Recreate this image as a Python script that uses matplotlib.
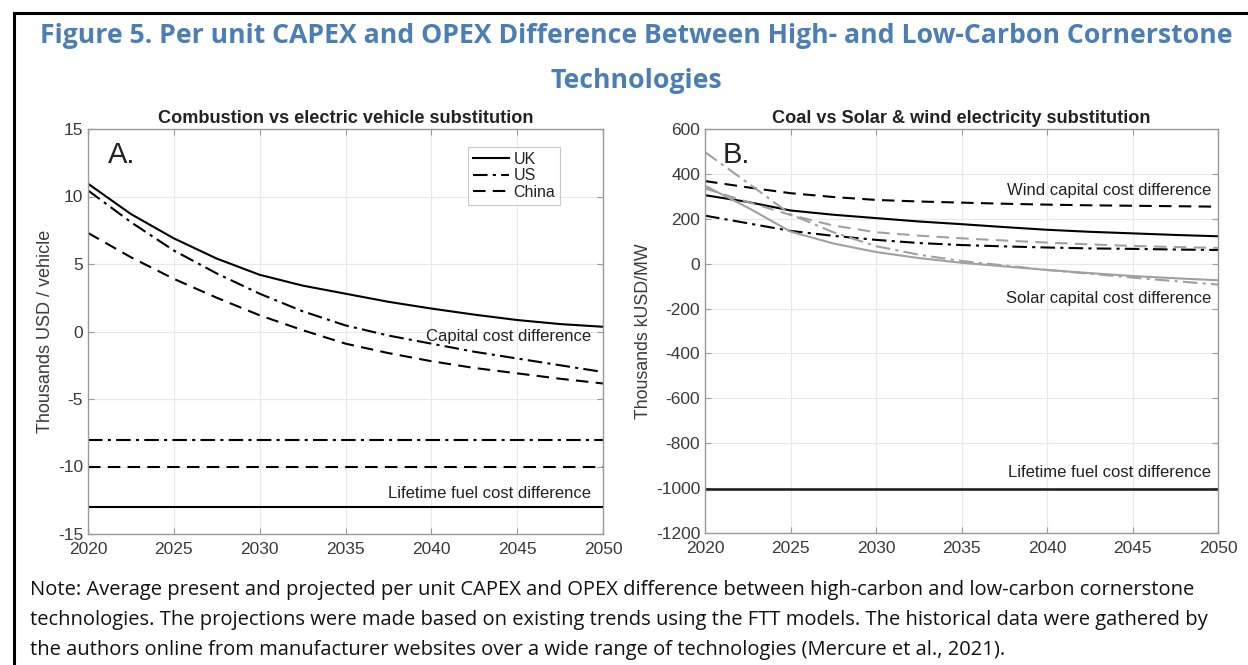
import matplotlib
matplotlib.use("Agg")
import matplotlib.pyplot as plt
from matplotlib.lines import Line2D

# ---------------- data ----------------
years = [2020, 2022.5, 2025, 2027.5, 2030, 2032.5, 2035, 2037.5, 2040, 2042.5, 2045, 2047.5, 2050]

# Panel A: thousands USD / vehicle
ev_capital_uk = [10.95, 8.7, 6.9, 5.4, 4.2, 3.4, 2.8, 2.2, 1.7, 1.25, 0.85, 0.55, 0.35]
ev_capital_us = [10.45, 8.1, 6.0, 4.3, 2.8, 1.5, 0.45, -0.3, -0.9, -1.5, -2.0, -2.5, -3.0]
ev_capital_cn = [7.3, 5.5, 3.9, 2.5, 1.2, 0.1, -0.9, -1.6, -2.2, -2.7, -3.1, -3.5, -3.85]
ev_fuel_uk = -13.0
ev_fuel_us = -8.0
ev_fuel_cn = -10.0

# Panel B: thousands kUSD / MW
wind_uk = [305, 275, 237, 218, 203, 188, 176, 163, 151, 142, 135, 128, 122]
wind_cn = [368, 340, 314, 297, 284, 277, 272, 267, 263, 260, 258, 256, 254]
wind_us = [214, 180, 146, 124, 106, 92, 83, 77, 72, 68, 66, 63, 61]
solar_us = [497, 360, 220, 140, 78, 40, 12, -8, -28, -45, -62, -78, -93]
solar_uk = [347, 250, 143, 90, 52, 25, 4, -12, -28, -42, -55, -65, -74]
solar_cn = [335, 275, 217, 170, 140, 125, 113, 103, 94, 86, 79, 74, 70]
coal_fuel = -1005

legend_labels = ["UK", "US", "China"]
xticks = [2020, 2025, 2030, 2035, 2040, 2045, 2050]

fig_title = "Figure 5. Per unit CAPEX and OPEX Difference Between High- and Low-Carbon Cornerstone\nTechnologies"
note_lines = [
    "Note: Average present and projected per unit CAPEX and OPEX difference between high-carbon and low-carbon cornerstone",
    "technologies. The projections were made based on existing trends using the FTT models. The historical data were gathered by",
    "the authors online from manufacturer websites over a wide range of technologies (Mercure et al., 2021).",
]

# ---------------- style ----------------
W, H = 1248, 665
fig = plt.figure(figsize=(W / 100, H / 100), dpi=100)
CF = "Liberation Sans"
TICKC = "#3a3a3a"
SPC = "#9a9a9a"
BLUE = "#4a7eb5"
GRAY = "#a0a0a0"
TXT = "#222222"

DASH = (0, (6, 3.5))
DASHDOT = (0, (7, 2.5, 1.5, 2.5))


def ax_rect(x0, y0, x1, y1):
    return [x0 / W, 1 - y1 / H, (x1 - x0) / W, (y1 - y0) / H]


def style_axes(ax):
    for s in ax.spines.values():
        s.set_color(SPC)
        s.set_linewidth(1.0)
    ax.tick_params(direction="in", top=True, right=True, colors=SPC, labelcolor=TICKC,
                   labelsize=12.5, length=4)
    ax.tick_params(axis="x", pad=6)
    ax.grid(True, color="#e8e8e8", linewidth=0.8)
    ax.set_axisbelow(True)
    ax.set_xlim(2020, 2050)
    ax.set_xticks(xticks)
    ax.set_xticklabels([str(t) for t in xticks], family=CF)


# Frame
fig.add_artist(Line2D([14 / W, 14 / W], [0, 1 - 13 / H], color="black", lw=2.2, transform=fig.transFigure))
fig.add_artist(Line2D([14 / W, 1], [1 - 13 / H, 1 - 13 / H], color="black", lw=2.2, transform=fig.transFigure))

# Title
t1, t2 = fig_title.split("\n")
fig.text(636 / W, 1 - 36 / H, t1, ha="center", va="center",
         family="Open Sans", weight="bold", color=BLUE, fontsize=19.2)
fig.text(636 / W, 1 - 81 / H, t2, ha="center", va="center",
         family="Open Sans", weight="bold", color=BLUE, fontsize=19.2)

lw = 1.5

# ---------------- Panel A ----------------
axA = fig.add_axes(ax_rect(88, 129, 603, 534))
axA.plot(years, ev_capital_uk, color="black", lw=lw, linestyle="-", label=legend_labels[0])
axA.plot(years, ev_capital_us, color="black", lw=lw, linestyle=DASHDOT, label=legend_labels[1])
axA.plot(years, ev_capital_cn, color="black", lw=lw, linestyle=DASH, label=legend_labels[2])
axA.plot([years[0], years[-1]], [ev_fuel_us] * 2, color="black", lw=lw, linestyle=DASHDOT)
axA.plot([years[0], years[-1]], [ev_fuel_cn] * 2, color="black", lw=lw, linestyle=DASH)
axA.plot([years[0], years[-1]], [ev_fuel_uk] * 2, color="black", lw=lw, linestyle="-")
axA.set_ylim(-15, 15)
ytA = [-15, -10, -5, 0, 5, 10, 15]
axA.set_yticks(ytA)
style_axes(axA)
axA.set_yticklabels([str(v) for v in ytA], family=CF)
axA.set_title("Combustion vs electric vehicle substitution", family=CF, weight="bold",
              fontsize=13.1, color=TXT, pad=4)
axA.set_ylabel("Thousands USD / vehicle", family=CF, fontsize=13, color=TICKC, labelpad=3)
axA.text(0.038, 0.935, "A.", transform=axA.transAxes, family=CF, fontsize=21,
         color=TXT, ha="left", va="center")
axA.text(2049.3, -0.4, "Capital cost difference", family=CF, fontsize=12, color=TXT,
         ha="right", va="center")
axA.text(2049.3, -12.0, "Lifetime fuel cost difference", family=CF, fontsize=12,
         color=TXT, ha="right", va="center")
leg = axA.legend(loc="upper right", bbox_to_anchor=((560 - 88) / 515, 1 - (147 - 129) / 405),
                 prop={"family": CF, "size": 11.5}, frameon=True, fancybox=False,
                 edgecolor="#bbbbbb", handlelength=2.3, handletextpad=0.25,
                 borderpad=0.3, labelspacing=0.1, borderaxespad=0)
leg.get_frame().set_linewidth(0.8)
for t in leg.get_texts():
    t.set_color(TXT)

# ---------------- Panel B ----------------
axB = fig.add_axes(ax_rect(705, 129, 1218, 533))
axB.plot(years, wind_cn, color="black", lw=lw, linestyle=DASH)
axB.plot(years, wind_uk, color="black", lw=lw, linestyle="-")
axB.plot(years, wind_us, color="black", lw=lw, linestyle=DASHDOT)
axB.plot(years, solar_cn, color=GRAY, lw=lw, linestyle=DASH)
axB.plot(years, solar_uk, color=GRAY, lw=lw, linestyle="-")
axB.plot(years, solar_us, color=GRAY, lw=lw, linestyle=DASHDOT)
axB.plot([years[0], years[-1]], [coal_fuel] * 2, color=TXT, lw=1.9, linestyle="-")
axB.set_ylim(-1200, 600)
ytB = [-1200, -1000, -800, -600, -400, -200, 0, 200, 400, 600]
axB.set_yticks(ytB)
style_axes(axB)
axB.set_yticklabels([str(v) for v in ytB], family=CF)
axB.set_title("Coal vs Solar & wind electricity substitution", family=CF, weight="bold",
              fontsize=13.1, color=TXT, pad=4)
axB.set_ylabel("Thousands kUSD/MW", family=CF, fontsize=12.8, color=TICKC, labelpad=3)
axB.text(0.034, 0.935, "B.", transform=axB.transAxes, family=CF, fontsize=21,
         color=TXT, ha="left", va="center")
axB.text(2049.6, 325, "Wind capital cost difference", family=CF, fontsize=12,
         color=TXT, ha="right", va="center")
axB.text(2049.6, -153, "Solar capital cost difference", family=CF, fontsize=12,
         color=TXT, ha="right", va="center")
axB.text(2049.6, -930, "Lifetime fuel cost difference", family=CF, fontsize=12,
         color=TXT, ha="right", va="center")

# Note
for i, line in enumerate(note_lines):
    fig.text(30 / W, 1 - (590 + 30 * i) / H, line, ha="left", va="center",
             family="Open Sans", fontsize=14.5, color="#111111")

fig.savefig("out.png", dpi=100, facecolor="white")
